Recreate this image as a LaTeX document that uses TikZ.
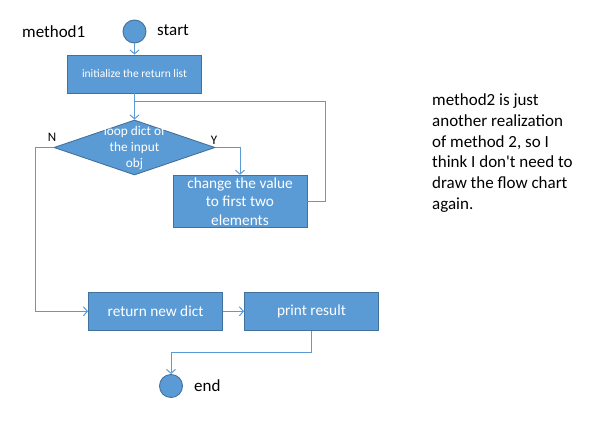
\documentclass[tikz,border=0pt]{standalone}
\usepackage{fontspec}
\setmainfont{Carlito}
\usetikzlibrary{arrows.meta,shapes.geometric}
\definecolor{ofill}{HTML}{5B9BD5}
\definecolor{oedge}{HTML}{41719C}
\definecolor{oline}{HTML}{5B9BD5}
\begin{document}
\begin{tikzpicture}[x=1pt,y=-1pt,
  box/.style={draw=oedge,fill=ofill,line width=0.9pt,inner sep=0pt,text=white,align=center},
  circ/.style={circle,draw=oedge,fill=ofill,line width=0.9pt,minimum size=23pt,inner sep=0pt},
  dia/.style={diamond,draw=oedge,fill=ofill,line width=0.9pt,inner sep=0pt,minimum width=161pt,minimum height=55pt},
  txt/.style={inner sep=0pt,text=black,font=\fontsize{17}{20.8}\selectfont},
  lab/.style={inner sep=0pt,text=black,font=\fontsize{13}{15}\selectfont},
  con/.style={draw=oline,line width=1pt},
  arr/.style={con,-{Straight Barb[length=4pt,width=9pt]}}
]
\useasboundingbox (0,0) rectangle (609,438);

\node[circ] (start) at (134.5,31.5) {};
\node[txt,anchor=west] (startlab) at (157,30) {start};
\node[txt,anchor=west] (m1) at (22,32) {method1};

\node[box,minimum width=134pt,minimum height=38pt,font=\fontsize{11.5}{14}\selectfont] (init) at (134.5,74) {initialize the return list};

\node[dia] (loop) at (134.5,147.5) {};
\node[inner sep=0pt,text=white,align=center,font=\fontsize{13.3}{16}\selectfont] (looptext) at (134.5,148.5) {loop dict of\\the input\\obj};

\node[box,minimum width=134pt,minimum height=52pt,font=\fontsize{15.3}{18.5}\selectfont] (change) at (240,201.3) {change the value\\to first two\\elements};

\node[box,minimum width=134pt,minimum height=38pt,font=\fontsize{15.3}{18}\selectfont] (ret) at (155.5,311.3) {return new dict};
\node[box,minimum width=134pt,minimum height=38pt,font=\fontsize{15.3}{18}\selectfont] (print) at (311.5,311.3) {print result};

\node[circ] (endc) at (171,386) {};
\node[txt,anchor=west] (endlab) at (194,385.5) {end};

\node[lab] (nlab) at (52,137) {N};
\node[lab] (ylab) at (214,140) {Y};

\node[txt,anchor=north west,align=left] (note) at (432,93.5) {method2 is just\\another realization\\of method 2, so I\\think I don\textquotesingle t need to\\draw the flow chart\\again.};

\coordinate (merge) at (134.5,101.5);
\coordinate (cright) at (325,101.5);
\coordinate (nleft) at (35,147.5);
\coordinate (bend) at (311.5,352.7);

\draw[arr] (start) -- (init);
\draw[arr] (init) -- (loop);
\draw[con] (change.east) -| (cright) -- (merge);
\draw[arr] (loop.east) -| (change.north);
\draw[arr] (loop.west) -- (nleft) |- (ret.west);
\draw[arr] (ret) -- (print);
\draw[arr] (print.south) -- (bend) -| (endc.north);
\end{tikzpicture}
\end{document}
